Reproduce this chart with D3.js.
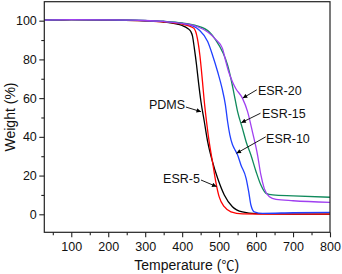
<!DOCTYPE html>
<html>
<head>
<meta charset="utf-8">
<script src="https://cdn.jsdelivr.net/npm/d3@7"></script>
<style>
  body { margin: 0; background: #fff; }
  svg { display: block; font-family: "Liberation Sans", Arial, sans-serif; }
</style>
</head>
<body>
<svg id="chart" width="342" height="274"></svg>
<script>
// TGA curves: [temperature, weight %]
const pdms = [[27,100.4],[100,100.5],[200,100.3],[300,99.9],[350,99.3],[380,98.5],[400,97.5],[415,96],[423,94.5],[428,92],[433,85.7],[439,77],[444,68.5],[451,58],[460,47.8],[469,37.5],[482,27.2],[496,18.6],[514,10],[536,3.9],[563,1.2],[600,0.3],[700,0.1],[800,0.1]];
const esr5 = [[27,100.4],[100,100.5],[200,100.3],[300,99.9],[350,99.4],[400,98.2],[420,97.2],[432,96],[441,91],[448,82],[455,68.5],[460,58],[466,47.8],[473,37.5],[482,27.2],[491,16.8],[500,9.1],[514,3.9],[532,1.3],[563,0.2],[700,0.1],[800,0.1]];
const esr10 = [[27,100.3],[100,100.5],[200,100.4],[300,100],[350,99.6],[400,98.6],[430,97.2],[446,95.2],[469,89.2],[482,82.3],[496,73.6],[508,65],[517,56.5],[523,47.8],[529,41],[536,36],[541,34],[550,30.6],[559,25.5],[573,18.6],[580,11.7],[586,4.8],[595,1.3],[618,0.5],[700,0.8],[800,1]];
const esr15 = [[27,100.3],[100,100.5],[200,100.4],[300,100.1],[350,99.7],[400,98.8],[440,97.3],[473,94.3],[491,90],[509,84],[523,77],[532,70],[541,61.6],[550,53],[563,44.4],[573,37.5],[586,30.6],[600,22],[613,15.1],[627,10.8],[645,10],[700,9.5],[800,8.8]];
const esr20 = [[27,100.3],[100,100.5],[200,100.4],[300,100.1],[350,99.6],[400,98.6],[440,97],[470,94],[490,90.5],[509,85.7],[518,79],[526,73.5],[536,68.5],[545,65],[563,60],[577,53],[590,42.7],[604,30.6],[613,20.3],[622,13.4],[636,9.1],[654,7.7],[700,7],[800,6.2]];

const seriesNames = ["PDMS", "ESR-5", "ESR-10", "ESR-15", "ESR-20"];
const seriesData = [pdms, esr5, esr10, esr15, esr20];
const seriesColors = ["#000000", "#ff0000", "#2040ff", "#108a5c", "#a040f0"];

const xTicks = [100, 200, 300, 400, 500, 600, 700, 800];
const xMinor = [50, 150, 250, 350, 450, 550, 650, 750];
const yTicks = [0, 20, 40, 60, 80, 100];
const yMinor = [10, 30, 50, 70, 90];

// labels: text, anchor, text position, arrow tail, arrow tip (data units)
const labels = [
  { text: "PDMS",   anchor: "end",   at: [408, 54.4], from: [410, 55.4], to: [451, 53] },
  { text: "ESR-5",  anchor: "end",   at: [448, 16.2], from: [451, 17.7], to: [493, 14.3] },
  { text: "ESR-10", anchor: "start", at: [627, 36.8], from: [626, 40],   to: [547, 31.5] },
  { text: "ESR-15", anchor: "start", at: [616, 49.7], from: [612, 52.2], to: [560, 47.3] },
  { text: "ESR-20", anchor: "start", at: [605, 61.6], from: [602, 64.3], to: [564, 60] }
];

const svg = d3.select("#chart");
const plotLeft = 44.3, plotRight = 330, plotTop = 1.7, plotBottom = 232.3;

const x = d3.scaleLinear().domain([27, 800]).range([plotLeft, plotRight]);
const y = d3.scaleLinear().domain([-9.3, 109.8]).range([plotBottom, plotTop]);

// arrow marker
svg.append("defs").append("marker")
    .attr("id", "arrow")
    .attr("viewBox", "0 0 10 10")
    .attr("refX", 10).attr("refY", 5)
    .attr("markerWidth", 5.5).attr("markerHeight", 4.5)
    .attr("markerUnits", "userSpaceOnUse")
    .attr("orient", "auto")
  .append("path")
    .attr("d", "M0,0L10,5L0,10Z")
    .attr("fill", "#000");

// axes
svg.append("g")
    .attr("transform", `translate(0,${plotBottom})`)
    .call(d3.axisBottom(x).tickValues(xTicks).tickSize(5).tickPadding(4.5).tickSizeOuter(0));
svg.append("g")
    .attr("transform", `translate(0,${plotBottom})`)
    .call(d3.axisBottom(x).tickValues(xMinor).tickSize(3).tickFormat("").tickSizeOuter(0));
svg.append("g")
    .attr("transform", `translate(${plotLeft},0)`)
    .call(d3.axisLeft(y).tickValues(yTicks).tickSize(5).tickPadding(2.5).tickSizeOuter(0));
svg.append("g")
    .attr("transform", `translate(${plotLeft},0)`)
    .call(d3.axisLeft(y).tickValues(yMinor).tickSize(3).tickFormat("").tickSizeOuter(0));

svg.selectAll(".domain").remove();
svg.selectAll(".tick line").attr("stroke", "#222").attr("stroke-width", 1.1);
svg.selectAll(".tick text")
    .attr("font-family", "Liberation Sans, Arial, sans-serif")
    .attr("font-size", 12.5)
    .attr("fill", "#111");

// curves
const line = d3.line()
    .x(d => x(d[0]))
    .y(d => y(d[1]))
    .curve(d3.curveMonotoneX);

svg.append("g")
  .selectAll("path")
  .data(seriesData)
  .join("path")
    .attr("d", line)
    .attr("fill", "none")
    .attr("stroke", (d, i) => seriesColors[i])
    .attr("stroke-width", 1.3);

// frame
svg.append("rect")
    .attr("x", plotLeft).attr("y", plotTop)
    .attr("width", plotRight - plotLeft).attr("height", plotBottom - plotTop)
    .attr("fill", "none")
    .attr("stroke", "#222")
    .attr("stroke-width", 1.2);

// annotations
const ann = svg.append("g");
labels.forEach(l => {
  ann.append("line")
      .attr("x1", x(l.from[0])).attr("y1", y(l.from[1]))
      .attr("x2", x(l.to[0])).attr("y2", y(l.to[1]))
      .attr("stroke", "#000")
      .attr("stroke-width", 0.9)
      .attr("marker-end", "url(#arrow)");
  ann.append("text")
      .attr("x", x(l.at[0])).attr("y", y(l.at[1]))
      .attr("text-anchor", l.anchor)
      .attr("font-size", 12.5)
      .attr("fill", "#111")
      .text(l.text);
});

// axis titles
const xTitle = svg.append("text")
    .attr("x", (plotLeft + plotRight) / 2 - 0.5).attr("y", 270)
    .attr("text-anchor", "middle")
    .attr("font-size", 14)
    .attr("fill", "#111");
xTitle.append("tspan").text("Temperature (");
xTitle.append("tspan").attr("font-family", "Noto Sans CJK SC").attr("font-size", 13).text("℃");
xTitle.append("tspan").text(")");

svg.append("text")
    .attr("transform", `translate(15,${(plotTop + plotBottom) / 2}) rotate(-90)`)
    .attr("text-anchor", "middle")
    .attr("font-size", 14)
    .attr("fill", "#111")
    .text("Weight (%)");
</script>
</body>
</html>
